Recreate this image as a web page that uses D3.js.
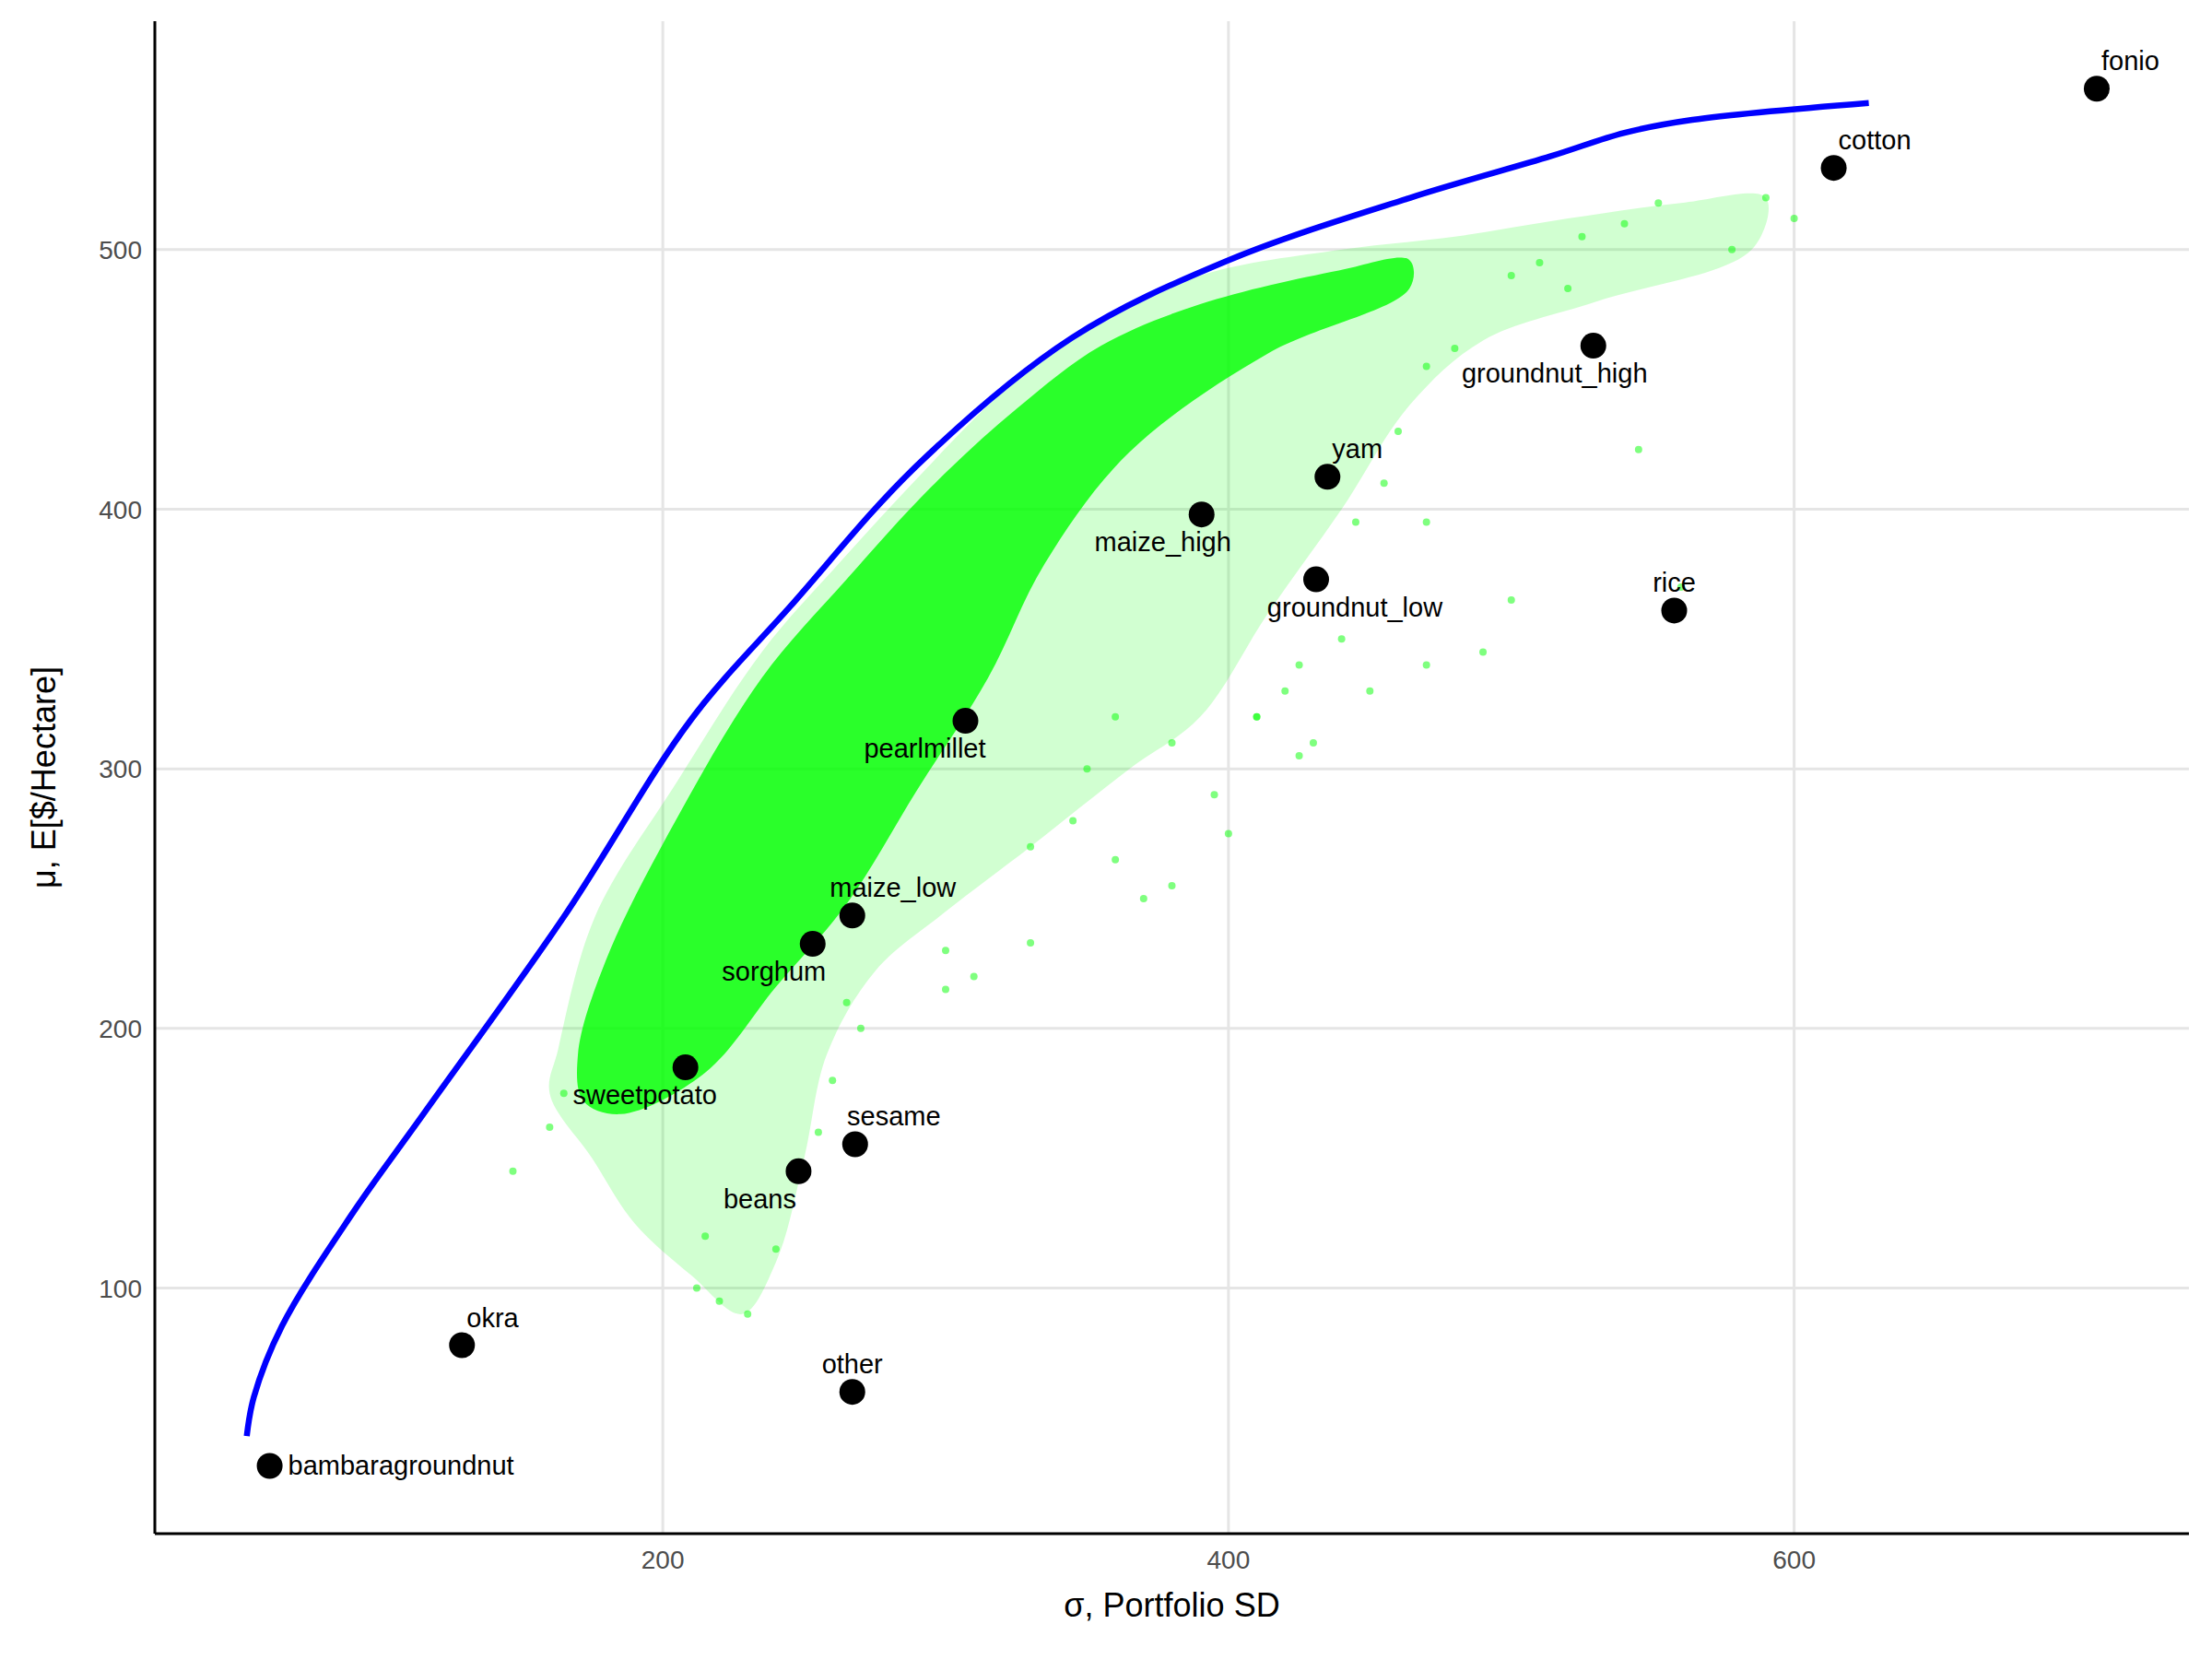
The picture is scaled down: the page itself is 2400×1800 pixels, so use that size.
<!DOCTYPE html>
<html><head><meta charset="utf-8"><script src="https://cdn.jsdelivr.net/npm/d3@7"></script>
<style>body{margin:0;background:#fff}</style></head><body>
<script>
const crops=["fonio","cotton","groundnut_high","yam","maize_high","groundnut_low","rice","pearlmillet","maize_low","sorghum","sweetpotato","sesame","beans","okra","other","bambaragroundnut"];
const cropSD=[707,614,529,435,390.5,431,557.6,307,267,253,208,268,248,129,267,61];
const cropMu=[562,531.5,463,412.5,398,373,361,318.5,243.5,232.6,185,155.4,145,78,60,31.5];
const labelPos=["ar","ar","b","ar","b","b","a","b","a","b","b","a","b","ar","a","r"];
const frontierSD=[52.9,55.4,65.3,90.3,115.2,165,210,245,290,344.6,399.5,464.3,514,540,564,626.4];
const frontierMu=[43,58,85.3,128.8,166.8,243,319,362.5,417,466,495.7,520,536,545,550,556.5];
const coreCloud=[[170,190],[180,226.6],[205,281],[235,335],[265,373],[295,408.7],[325,438.6],[355,463],[390,479],[439,492],[464,496],[464,485],[414,460],[365,422],[335,379],[315,335],[290,292],[265,248],[240,216],[215,183],[185,167],[172,172]];
const outerCloud=[[163,192],[176,243],[205,295],[235,345],[263,380],[290,412],[320,445],[350,470],[390,490],[440,500],[480,505],[520,512],[560,518],[590,520],[585,500],[530,480],[490,465],[464,440],[440,400],[414,360],[390,320],[365,300],[330,270],[300,245],[275,222],[258,190],[250,150],[240,110],[228,90],[210,105],[190,125],[175,150],[160,175]];
const scatterSD=[147,160,165,600,590,578,552,540,525,520,510,500,480,470,460,455,445,420,410,400,380,370,360,350,330,310,300,270,265,260,255,240,230,220,215,212,545,560,500,490,470,430,425,410,395,450,470,440,425,380,345,360,300,330];
const scatterMu=[145,162,175,512,520,500,518,510,505,485,495,490,462,455,430,410,395,330,320,275,255,250,265,300,270,220,215,200,210,180,160,115,90,95,120,100,423,370,365,345,340,310,305,320,290,330,395,350,340,310,280,320,230,233];
const xTicks=[200,400,600], yTicks=[100,200,300,400,500];

const W=2400,H=1800,m={l:168,r:25,t:23,b:136};
const svg=d3.select("body").append("svg").attr("width",W).attr("height",H).style("font-family","Liberation Sans, Arial, sans-serif");
const x=d3.scaleLinear().domain([20.4,739.6]).range([m.l,W-m.r]);
const y=d3.scaleLinear().domain([5.4,588]).range([H-m.b,m.t]);
const g=svg.append("g");
xTicks.forEach(t=>g.append("line").attr("x1",x(t)).attr("x2",x(t)).attr("y1",m.t).attr("y2",H-m.b).attr("stroke","#e5e5e5").attr("stroke-width",3));
yTicks.forEach(t=>g.append("line").attr("x1",m.l).attr("x2",W-m.r).attr("y1",y(t)).attr("y2",y(t)).attr("stroke","#e5e5e5").attr("stroke-width",3));
const poly=d3.line().x(d=>x(d[0])).y(d=>y(d[1])).curve(d3.curveCatmullRomClosed);
g.append("path").attr("d",poly(outerCloud)).attr("fill","#00ff00").attr("opacity",0.18);
g.append("path").attr("d",poly(coreCloud)).attr("fill","#00ff00").attr("opacity",0.8);
scatterSD.forEach((s,i)=>g.append("circle").attr("cx",x(s)).attr("cy",y(scatterMu[i])).attr("r",4).attr("fill","#00ff00").attr("opacity",0.5));
g.append("path").attr("d",d3.line().x(d=>x(d)).y((d,i)=>y(frontierMu[i])).curve(d3.curveCatmullRom)(frontierSD)).attr("fill","none").attr("stroke","#0000ff").attr("stroke-width",6.5);
crops.forEach((c,i)=>{
 const cx=x(cropSD[i]),cy=y(cropMu[i]);
 g.append("circle").attr("cx",cx).attr("cy",cy).attr("r",14).attr("fill","#000");
 const p=labelPos[i];let tx=cx,ty=cy,a="middle";
 if(p=="ar"){tx=cx+5;ty=cy-20;a="start";}
 if(p=="a"){ty=cy-20;}
 if(p=="b"){tx=cx-40;ty=cy+40;}
 if(p=="r"){tx=cx+20;ty=cy+10;a="start";}
 if(c=="sorghum"){tx=cx-42;} if(c=="pearlmillet"){tx=cx-44;} if(c=="beans"){tx=cx-42;}
 if(c=="groundnut_high"){tx=cx-42;} if(c=="groundnut_low"){tx=cx+42;} if(c=="sweetpotato"){tx=cx-44;} if(c=="maize_high"){tx=cx-42;}
 if(c=="maize_low"){tx=cx+44;} if(c=="sesame"){tx=cx+42;}
 g.append("text").attr("x",tx).attr("y",ty).attr("text-anchor",a).attr("font-size",29).attr("fill","#000").text(c);
});
g.append("line").attr("x1",m.l).attr("x2",m.l).attr("y1",m.t).attr("y2",H-m.b).attr("stroke","#000").attr("stroke-width",3);
g.append("line").attr("x1",m.l).attr("x2",W-m.r).attr("y1",H-m.b).attr("y2",H-m.b).attr("stroke","#000").attr("stroke-width",3);
xTicks.forEach(t=>g.append("text").attr("x",x(t)).attr("y",H-m.b+38).attr("text-anchor","middle").attr("font-size",28).attr("fill","#4d4d4d").text(t));
yTicks.forEach(t=>g.append("text").attr("x",m.l-14).attr("y",y(t)+10).attr("text-anchor","end").attr("font-size",28).attr("fill","#4d4d4d").text(t));
svg.append("text").attr("x",(m.l+W-m.r)/2).attr("y",H-m.b+90).attr("text-anchor","middle").attr("font-size",36).text("σ, Portfolio SD");
svg.append("text").attr("transform",`translate(60,${(m.t+H-m.b)/2}) rotate(-90)`).attr("text-anchor","middle").attr("font-size",36).text("μ, E[$/Hectare]");
</script></body></html>
